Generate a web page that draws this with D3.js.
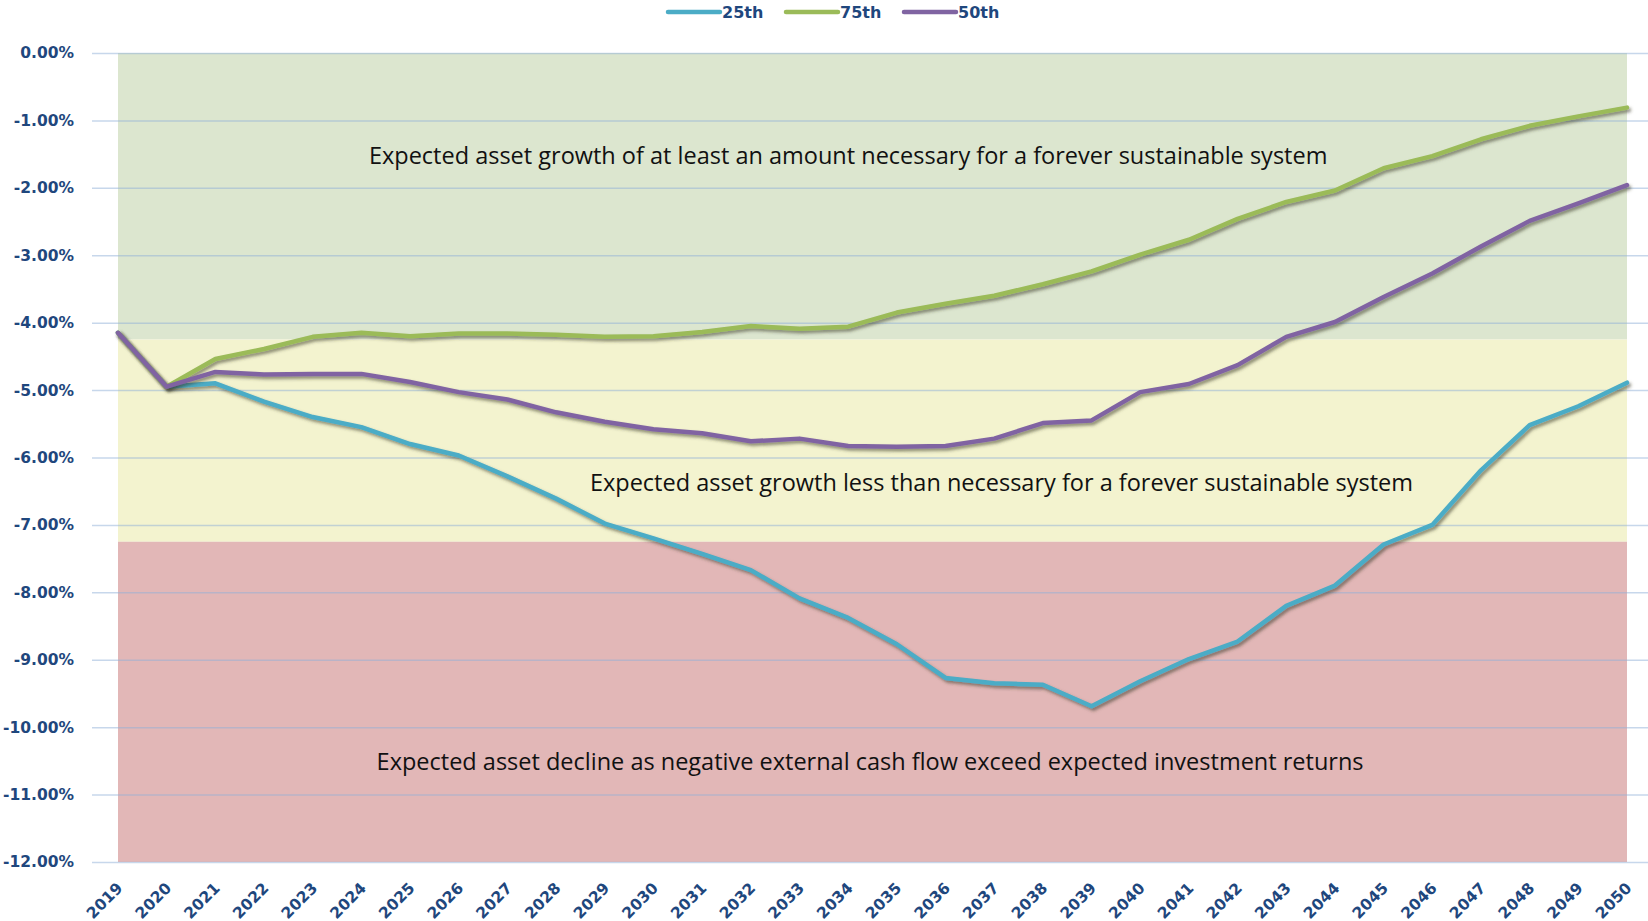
<!DOCTYPE html>
<html>
<head>
<meta charset="utf-8">
<script src="https://cdn.jsdelivr.net/npm/d3@7"></script>
<style>
  body { margin: 0; background: #fff; }
  svg { display: block; }
</style>
</head>
<body>
<svg width="1648" height="921"></svg>
<script>
var years = d3.range(2019, 2051);
var p25 = [-4.15, -4.95, -4.90, -5.17, -5.40, -5.55, -5.80, -5.97, -6.28, -6.61, -6.98, -7.20, -7.43, -7.67, -8.09, -8.38,
           -8.77, -9.27, -9.35, -9.37, -9.69, -9.32, -8.99, -8.73, -8.20, -7.90, -7.29, -7.00, -6.19, -5.52, -5.24, -4.89];
var p75 = [-4.15, -4.95, -4.54, -4.39, -4.21, -4.15, -4.20, -4.16, -4.16, -4.18, -4.21, -4.20, -4.14, -4.05, -4.09, -4.06,
           -3.85, -3.72, -3.60, -3.43, -3.24, -2.99, -2.77, -2.46, -2.21, -2.04, -1.71, -1.53, -1.28, -1.08, -0.94, -0.81];
var p50 = [-4.15, -4.95, -4.73, -4.77, -4.76, -4.76, -4.88, -5.03, -5.14, -5.33, -5.47, -5.58, -5.64, -5.76, -5.72, -5.83,
           -5.84, -5.83, -5.72, -5.49, -5.45, -5.03, -4.91, -4.63, -4.21, -3.99, -3.62, -3.27, -2.87, -2.49, -2.23, -1.96];
var yTicks = d3.range(0, -12.5, -1);

var seriesNames = ["25th", "75th", "50th"];
var seriesColors = ["#4bacc6", "#9bbb59", "#8064a2"];
var seriesValues = [p25, p75, p50];

var bandBounds = [0, -4.25, -7.25, -12];
var bandColors = ["#dce6cf", "#f3f3cf", "#e2b7b7"];
var bandLabels = [
  "Expected asset growth of at least an amount necessary for a forever sustainable system",
  "Expected asset growth less than necessary for a forever sustainable system",
  "Expected asset decline as negative external cash flow exceed expected investment returns"
];
var bandLabelValues = [-1.52, -6.37, -10.52];
var bandLabelYears = [2034.0, 2037.15, 2034.45];

var svg = d3.select("svg");

var x = d3.scaleLinear().domain([2019, 2050]).range([118, 1627]);
var y = d3.scaleLinear().domain([0, -12]).range([53, 862]);

var defs = svg.append("defs");
var f = defs.append("filter").attr("id", "shadow")
    .attr("x", "-5%").attr("y", "-5%").attr("width", "110%").attr("height", "120%");
f.append("feDropShadow")
    .attr("dx", 2).attr("dy", 2.5).attr("stdDeviation", 1.5)
    .attr("flood-color", "#3a3a2a").attr("flood-opacity", 0.55);

// background bands
svg.append("g").selectAll("rect")
  .data(bandColors)
  .enter().append("rect")
    .attr("x", x(2019))
    .attr("width", x(2050) - x(2019))
    .attr("y", function(d, i) { return y(bandBounds[i]); })
    .attr("height", function(d, i) { return y(bandBounds[i + 1]) - y(bandBounds[i]); })
    .attr("fill", function(d) { return d; });

// grid lines + y axis labels
var yAxis = svg.append("g")
    .attr("transform", "translate(92,0)")
    .call(d3.axisLeft(y).tickValues(yTicks).tickSize(-1556)
      .tickFormat(function(d) { return d.toFixed(2) + "%"; }));
yAxis.select(".domain").remove();
yAxis.selectAll(".tick line")
    .attr("stroke", "#8fb0d8").attr("stroke-opacity", 0.5).attr("stroke-width", 1.5);
yAxis.selectAll(".tick text")
    .attr("x", -18)
    .attr("fill", "#1f477d")
    .style("font-family", "'DejaVu Sans', Verdana, sans-serif")
    .style("font-weight", "bold")
    .style("font-size", "15.5px");

// x axis labels
var xAxis = svg.append("g")
    .attr("transform", "translate(0,872)")
    .call(d3.axisBottom(x).tickValues(years).tickSize(0).tickFormat(d3.format("d")));
xAxis.select(".domain").remove();
xAxis.selectAll(".tick text")
    .attr("fill", "#1f477d")
    .attr("text-anchor", "end")
    .attr("dy", 0)
    .attr("transform", "translate(3,15) rotate(-45)")
    .style("font-family", "'DejaVu Sans', Verdana, sans-serif")
    .style("font-weight", "bold")
    .style("font-size", "15.5px");

// band labels
svg.append("g").selectAll("text")
  .data(bandLabels)
  .enter().append("text")
    .attr("x", function(d, i) { return x(bandLabelYears[i]); })
    .attr("y", function(d, i) { return y(bandLabelValues[i]); })
    .attr("dy", "0.35em")
    .attr("text-anchor", "middle")
    .attr("fill", "#111")
    .style("font-family", "'Open Sans', sans-serif")
    .style("font-size", "23.5px")
    .text(function(d) { return d; });

// lines
var line = d3.line()
    .x(function(d, i) { return x(years[i]); })
    .y(function(d) { return y(d); });

svg.append("g").selectAll("path")
  .data(seriesValues)
  .enter().append("path")
    .attr("fill", "none")
    .attr("stroke", function(d, i) { return seriesColors[i]; })
    .attr("stroke-width", 4.5)
    .attr("stroke-linejoin", "round")
    .attr("stroke-linecap", "round")
    .attr("filter", "url(#shadow)")
    .attr("d", line);

// legend
var legendX = [668, 786, 904];
var legend = svg.append("g").selectAll("g")
  .data(seriesNames)
  .enter().append("g")
    .attr("transform", function(d, i) { return "translate(" + legendX[i] + ",12)"; });
legend.append("line")
    .attr("x1", 0).attr("x2", 52)
    .attr("stroke", function(d, i) { return seriesColors[i]; })
    .attr("stroke-width", 4.5)
    .attr("stroke-linecap", "round");
legend.append("text")
    .attr("x", 54).attr("dy", "0.35em")
    .attr("fill", "#1f477d")
    .style("font-family", "'DejaVu Sans', Verdana, sans-serif")
    .style("font-weight", "bold")
    .style("font-size", "16px")
    .text(function(d) { return d; });
</script>
</body>
</html>
